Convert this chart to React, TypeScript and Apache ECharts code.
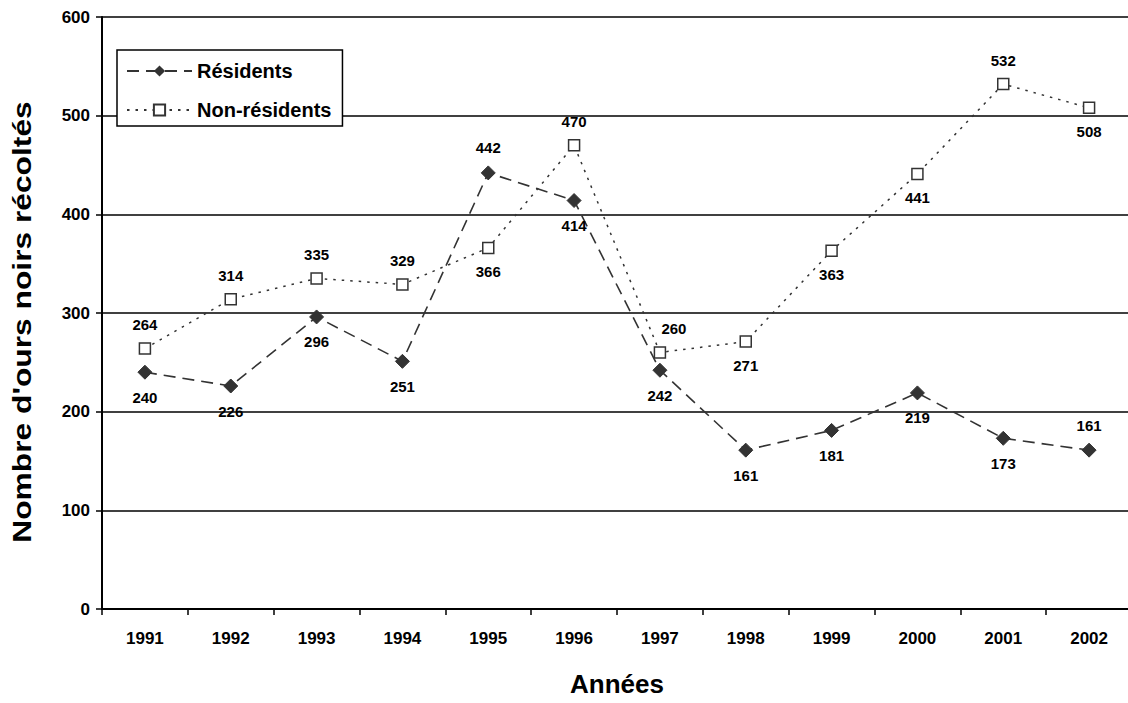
import React, { useEffect, useRef } from "react";
import * as echarts from "echarts";

const years = ["1991", "1992", "1993", "1994", "1995", "1996", "1997", "1998", "1999", "2000", "2001", "2002"];
const residents = [240, 226, 296, 251, 442, 414, 242, 161, 181, 219, 173, 161];
const nonResidents = [264, 314, 335, 329, 366, 470, 260, 271, 363, 441, 532, 508];
const residentsLabelPos = ["bottom", "bottom", "bottom", "bottom", "top", "bottom", "bottom", "bottom", "bottom", "bottom", "bottom", "top"];
const nonResidentsLabelPos = ["top", "top", "top", "top", "bottom", "top", "top", "bottom", "bottom", "bottom", "top", "bottom"];
const yTitle = "Nombre d'ours noirs récoltés";
const xTitle = "Années";

const FONT = "Arial, 'Liberation Sans', Helvetica, sans-serif";
const DARK = "#333333";

export default function App() {
  const ref = useRef<HTMLDivElement>(null);
  useEffect(() => {
    if (!ref.current) return;
    document.body.style.margin = "0";
    const chart = echarts.init(ref.current, undefined, { renderer: "svg" });
    const labelStyle = {
      show: true,
      fontFamily: FONT,
      fontWeight: "bold" as const,
      fontSize: 15,
      color: "#000",
      distance: 10,
    };
    chart.setOption({
      animation: false,
      backgroundColor: "#fff",
      textStyle: { fontFamily: FONT },
      grid: { left: 102, right: -4, top: 17, bottom: 94, containLabel: false, outerBoundsMode: "none" },
      legend: {
        orient: "vertical",
        left: 117,
        top: 50,
        backgroundColor: "#fff",
        borderColor: "#000",
        borderWidth: 1.5,
        borderRadius: 0,
        padding: [11, 11, 6, 9],
        itemGap: 19,
        itemWidth: 65,
        itemHeight: 14,
        textStyle: { fontFamily: FONT, fontWeight: "bold", fontSize: 20, color: "#000" },
        data: ["Résidents", "Non-résidents"],
      },
      graphic: [
        {
          type: "text",
          x: 22,
          y: 322,
          rotation: Math.PI / 2,
          scaleX: 1.27,
          style: {
            text: yTitle,
            fontFamily: FONT,
            fontWeight: "bold",
            fontSize: 25,
            fill: "#000",
            align: "center",
            verticalAlign: "middle",
          },
        },
      ],
      xAxis: {
        type: "category",
        data: years,
        boundaryGap: true,
        name: xTitle,
        nameLocation: "middle",
        nameGap: 62,
        nameTextStyle: { fontFamily: FONT, fontWeight: "bold", fontSize: 26, color: "#000" },
        axisLine: { lineStyle: { color: "#000", width: 2 } },
        axisTick: { show: true, length: 6, lineStyle: { color: "#000", width: 1.5 } },
        axisLabel: { fontFamily: FONT, fontWeight: "bold", fontSize: 17, color: "#000", margin: 21 },
        splitLine: { show: false },
      },
      yAxis: {
        type: "value",
        min: 0,
        max: 600,
        interval: 100,
        axisLine: { show: true, lineStyle: { color: "#000", width: 2 } },
        axisTick: { show: true, length: 6, lineStyle: { color: "#000", width: 1.5 } },
        axisLabel: { fontFamily: FONT, fontWeight: "bold", fontSize: 17, color: "#000", margin: 12 },
        splitLine: { show: true, lineStyle: { color: "#000", width: 1.6 } },
      },
      series: [
        {
          name: "Résidents",
          type: "line",
          data: residents.map((v, i) => ({ value: v, label: { position: residentsLabelPos[i] } })),
          symbol: "diamond",
          symbolSize: 14,
          itemStyle: { color: DARK, borderColor: DARK },
          lineStyle: { color: DARK, width: 1.6, type: [12, 7] },
          label: labelStyle,
          z: 3,
        },
        {
          name: "Non-résidents",
          type: "line",
          data: nonResidents.map((v, i) => ({
            value: v,
            label: { position: nonResidentsLabelPos[i], offset: i === 6 ? [14, 0] : [0, 0] },
          })),
          symbol: "rect",
          symbolSize: 11,
          itemStyle: { color: "#fff", borderColor: DARK, borderWidth: 1.5 },
          lineStyle: { color: DARK, width: 1.5, type: [2.5, 6] },
          label: labelStyle,
          z: 2,
        },
      ],
    });
    return () => chart.dispose();
  }, []);
  return <div ref={ref} style={{ width: 1128, height: 703 }} />;
}
